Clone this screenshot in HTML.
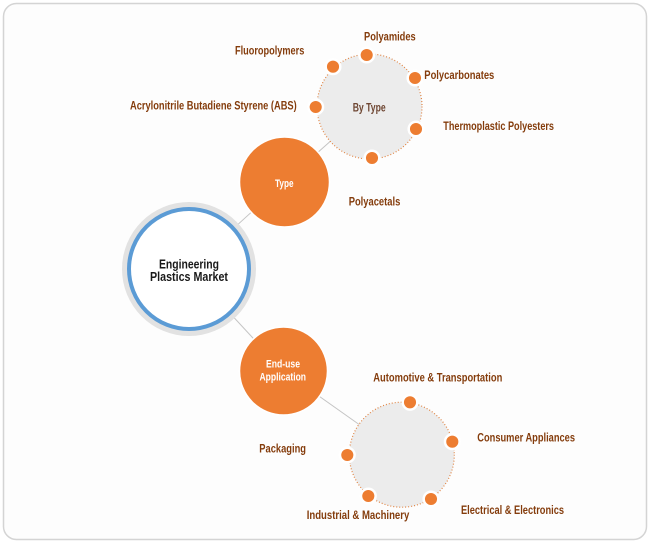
<!DOCTYPE html>
<html><head><meta charset="utf-8"><style>
html,body{margin:0;padding:0;background:#fff;}
svg{display:block;}
text{font-family:"Liberation Sans Narrow","Liberation Sans",sans-serif;font-weight:bold;}
.lb{fill:#843c0c;font-size:11.5px;}
</style></head><body>
<svg width="650" height="544" viewBox="0 0 650 544" xmlns="http://www.w3.org/2000/svg">
<rect x="3.5" y="3.5" width="643" height="536" rx="13" ry="13" fill="#fdfdfd" stroke="#d4d4d4" stroke-width="1.5"/>
<!-- connectors -->
<g stroke="#c4c4c4" stroke-width="1">
<line x1="189" y1="269" x2="284.5" y2="182"/>
<line x1="189" y1="269" x2="283.5" y2="371"/>
<line x1="284.5" y1="182" x2="369.5" y2="106.5"/>
<line x1="283.5" y1="371" x2="401.8" y2="454.7"/>
</g>
<!-- main circle -->
<circle cx="189" cy="269" r="67" fill="#e2e2e2"/>
<circle cx="189" cy="269" r="60" fill="#fff" stroke="#5b9bd5" stroke-width="4"/>
<text x="159" y="268.5" font-size="13" fill="#1a1a1a" textLength="60" lengthAdjust="spacingAndGlyphs">Engineering</text>
<text x="150" y="281" font-size="13" fill="#1a1a1a" textLength="78" lengthAdjust="spacingAndGlyphs">Plastics Market</text>
<!-- Type circle -->
<circle cx="284.5" cy="182" r="45" fill="#ed7d31" stroke="#fff" stroke-width="1.5"/>
<text x="275" y="187" font-size="11" fill="#fff" textLength="18.5" lengthAdjust="spacingAndGlyphs">Type</text>
<!-- End-use circle -->
<circle cx="283.5" cy="371" r="44" fill="#ed7d31" stroke="#fff" stroke-width="1.5"/>
<text x="266" y="367.5" font-size="11" fill="#fff" textLength="34" lengthAdjust="spacingAndGlyphs">End-use</text>
<text x="259.5" y="380.5" font-size="11" fill="#fff" textLength="46.5" lengthAdjust="spacingAndGlyphs">Application</text>
<!-- By Type circle -->
<circle cx="369.5" cy="106.5" r="52.5" fill="#ececec" stroke="#e08545" stroke-width="1.2" stroke-dasharray="1 2"/>
<text x="352.7" y="111.3" font-size="11.5" fill="#6e4632" textLength="33" lengthAdjust="spacingAndGlyphs">By Type</text>
<!-- Application circle -->
<circle cx="401.8" cy="454.7" r="52.5" fill="#ececec" stroke="#e08545" stroke-width="1.2" stroke-dasharray="1 2"/>
<!-- dots -->
<g fill="#ed7d31" stroke="#fff" stroke-width="2.5">
<circle cx="366.7" cy="55" r="7.3"/>
<circle cx="333" cy="66.7" r="7.3"/>
<circle cx="415" cy="78" r="7.3"/>
<circle cx="315.7" cy="107" r="7.3"/>
<circle cx="416" cy="129" r="7.3"/>
<circle cx="372" cy="158" r="7.3"/>
<circle cx="410" cy="402.3" r="7.3"/>
<circle cx="452.3" cy="441.7" r="7.3"/>
<circle cx="347.3" cy="455" r="7.3"/>
<circle cx="368.3" cy="496" r="7.3"/>
<circle cx="431" cy="499" r="7.3"/>
</g>
<!-- labels -->
<text class="lb" x="235" y="54.7" textLength="69.3" lengthAdjust="spacingAndGlyphs">Fluoropolymers</text>
<text class="lb" x="130" y="109.7" textLength="166.7" lengthAdjust="spacingAndGlyphs">Acrylonitrile Butadiene Styrene (ABS)</text>
<text class="lb" x="364" y="40.7" textLength="51.7" lengthAdjust="spacingAndGlyphs">Polyamides</text>
<text class="lb" x="424.3" y="79" textLength="70" lengthAdjust="spacingAndGlyphs">Polycarbonates</text>
<text class="lb" x="443.3" y="130" textLength="110.7" lengthAdjust="spacingAndGlyphs">Thermoplastic Polyesters</text>
<text class="lb" x="348.7" y="205.7" textLength="51.6" lengthAdjust="spacingAndGlyphs">Polyacetals</text>
<text class="lb" x="373.3" y="381.3" textLength="129" lengthAdjust="spacingAndGlyphs">Automotive &amp; Transportation</text>
<text class="lb" x="477.3" y="441.3" textLength="97.7" lengthAdjust="spacingAndGlyphs">Consumer Appliances</text>
<text class="lb" x="259.3" y="452.3" textLength="46.7" lengthAdjust="spacingAndGlyphs">Packaging</text>
<text class="lb" x="306.7" y="519" textLength="102.6" lengthAdjust="spacingAndGlyphs">Industrial &amp; Machinery</text>
<text class="lb" x="461" y="514" textLength="103" lengthAdjust="spacingAndGlyphs">Electrical &amp; Electronics</text>
</svg>
</body></html>
